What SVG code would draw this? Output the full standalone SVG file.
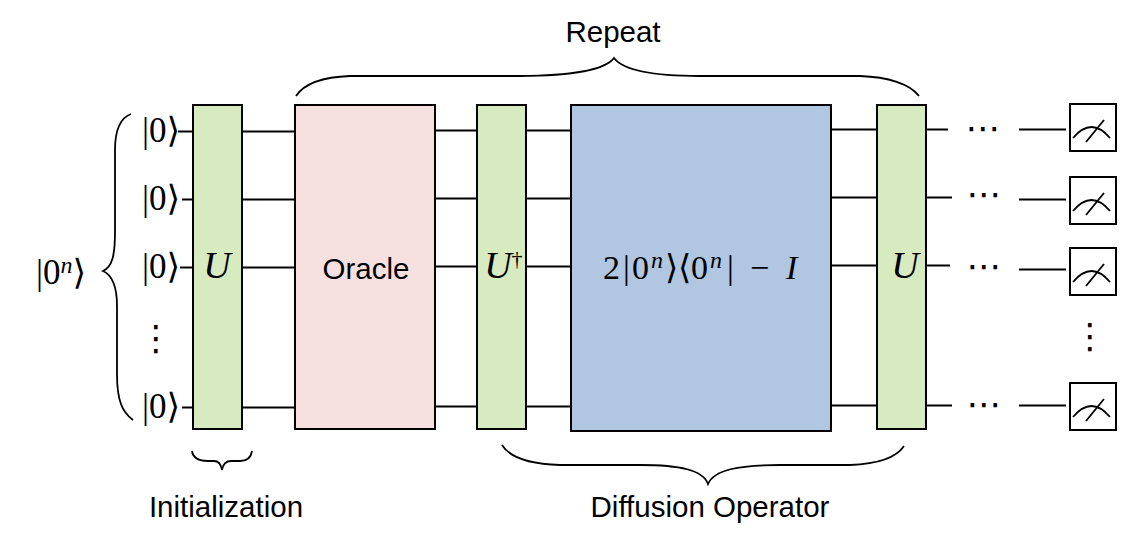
<svg xmlns="http://www.w3.org/2000/svg" width="1140" height="534" viewBox="0 0 1140 534">
<defs>
<style>
.box{stroke:#000;stroke-width:2}
.green{fill:#d7eac0}
.wire{stroke:#000;stroke-width:2;fill:none}
.needle{stroke:#000;stroke-width:1.8;fill:none}
.brace{stroke:#000;stroke-width:1.8;fill:none}
.math{font-family:"Liberation Serif","DejaVu Serif",serif;fill:#000}
.ui{font-family:"Liberation Sans",Arial,sans-serif;font-size:29.500px;fill:#000;text-anchor:middle}
.ket{font-size:35px}
.sup{font-size:24px;font-style:italic}
.big{font-size:38px;font-style:italic;text-anchor:middle}
.dots{font-family:"DejaVu Sans",sans-serif;font-size:35px;text-anchor:middle;fill:#000}
</style>
<g id="m"><rect class="box" x="0" y="0" width="46" height="47" fill="#fff"/><path class="needle" d="M3 34Q21.500 12 40 34M16 38L34 16"/></g>
</defs>
<g id="connectors">
<path class="wire" d="M178 131.500H193M182 199.500H193M180 267.500H193M182 407.500H193M242 131.500H295M242 199.500H295M242 267.500H295M242 407.500H295M435 130.500H477M435 198.500H477M435 266.500H477M435 406.500H477M526 130.500H571M526 198.500H571M526 266.500H571M526 406.500H571M831 129.500H877M831 197.500H877M831 265.500H877M831 405.500H877M926 129.500H948M926 197.500H952M926 265.500H950M926 405.500H952M1019 129.500H1066M1019 199.500H1066M1019 269.500H1066M1019 405.500H1066"/>
</g>
<g id="brace-input"><path class="brace" d="M131 114C120 118 115 130 115 150V232C115 256 112 267 103 271C112 275 117 286 117 306V374C117 400 122 412 133 420"/></g>
<g id="brace-init"><path class="brace" d="M192 451C193 458 198 461 208 461H214C219 461 221 464 222 470C223 464 226 461 231 461H240C246 461 251 458 252 451"/></g>
<g id="brace-repeat"><path class="brace" d="M296 96C304 84 322 77 350 76H520C570 76 605 70 614 58C623 70 650 76 700 76H860C888 77 910 84 919 96"/></g>
<g id="brace-diffusion"><path class="brace" d="M502 445C510 458 530 464 560 465H640C680 465 703 470 708 484C714 470 738 465 780 465H850C878 464 896 458 904 446"/></g>
<g id="input-kets">
<text class="math ket" x="142" y="142">|0⟩</text>
<text class="math ket" x="142" y="210">|0⟩</text>
<text class="math ket" x="142" y="278">|0⟩</text>
<text class="math ket" x="142" y="418">|0⟩</text>
<text class="dots" x="156" y="350">⋮</text>
<text class="math ket" x="36" y="284">|0<tspan class="sup" dy="-11">n</tspan><tspan dy="11">⟩</tspan></text>
</g>
<g id="init-u"><rect class="box green" x="193" y="105" width="49" height="324"/><text class="math big" x="217" y="278">U</text></g>
<g id="oracle"><rect class="box" x="295" y="105" width="140" height="324" fill="#f6e1e0"/><text class="ui" x="366" y="279">Oracle</text></g>
<g id="u-dagger"><rect class="box green" x="477" y="105" width="49" height="324"/><text class="math" x="498" y="278" font-size="38" font-style="italic" text-anchor="middle">U</text><text class="math" x="517" y="266" font-size="22" text-anchor="middle">†</text></g>
<g id="diffusion"><rect class="box" x="571" y="105" width="260" height="326" fill="#b0c6e1"/><text class="math" y="279" font-size="34"><tspan x="603">2</tspan><tspan x="623">|</tspan><tspan x="632">0</tspan><tspan class="sup" x="651" dy="-11">n</tspan><tspan x="665" dy="11">⟩</tspan><tspan x="678">⟨</tspan><tspan x="691">0</tspan><tspan class="sup" x="710" dy="-11">n</tspan><tspan x="727" dy="11">|</tspan><tspan x="750">−</tspan><tspan x="786" font-style="italic">I</tspan></text></g>
<g id="final-u"><rect class="box green" x="877" y="105" width="49" height="324"/><text class="math big" x="905" y="278">U</text></g>
<g id="meter-1"><use href="#m" x="1070" y="104"/></g>
<g id="meter-2"><use href="#m" x="1070" y="177"/></g>
<g id="meter-3"><use href="#m" x="1070" y="248"/></g>
<g id="meter-4"><use href="#m" x="1070" y="383"/></g>
<g id="output-dots">
<text class="dots" x="983" y="140">⋯</text>
<text class="dots" x="984" y="206">⋯</text>
<text class="dots" x="984" y="278">⋯</text>
<text class="dots" x="984" y="416">⋯</text>
<text class="dots" x="1090" y="348">⋮</text>
</g>
<g id="labels">
<text class="ui" x="613" y="42">Repeat</text>
<text class="ui" x="226" y="517">Initialization</text>
<text class="ui" x="710" y="517">Diffusion Operator</text>
</g>
</svg>
